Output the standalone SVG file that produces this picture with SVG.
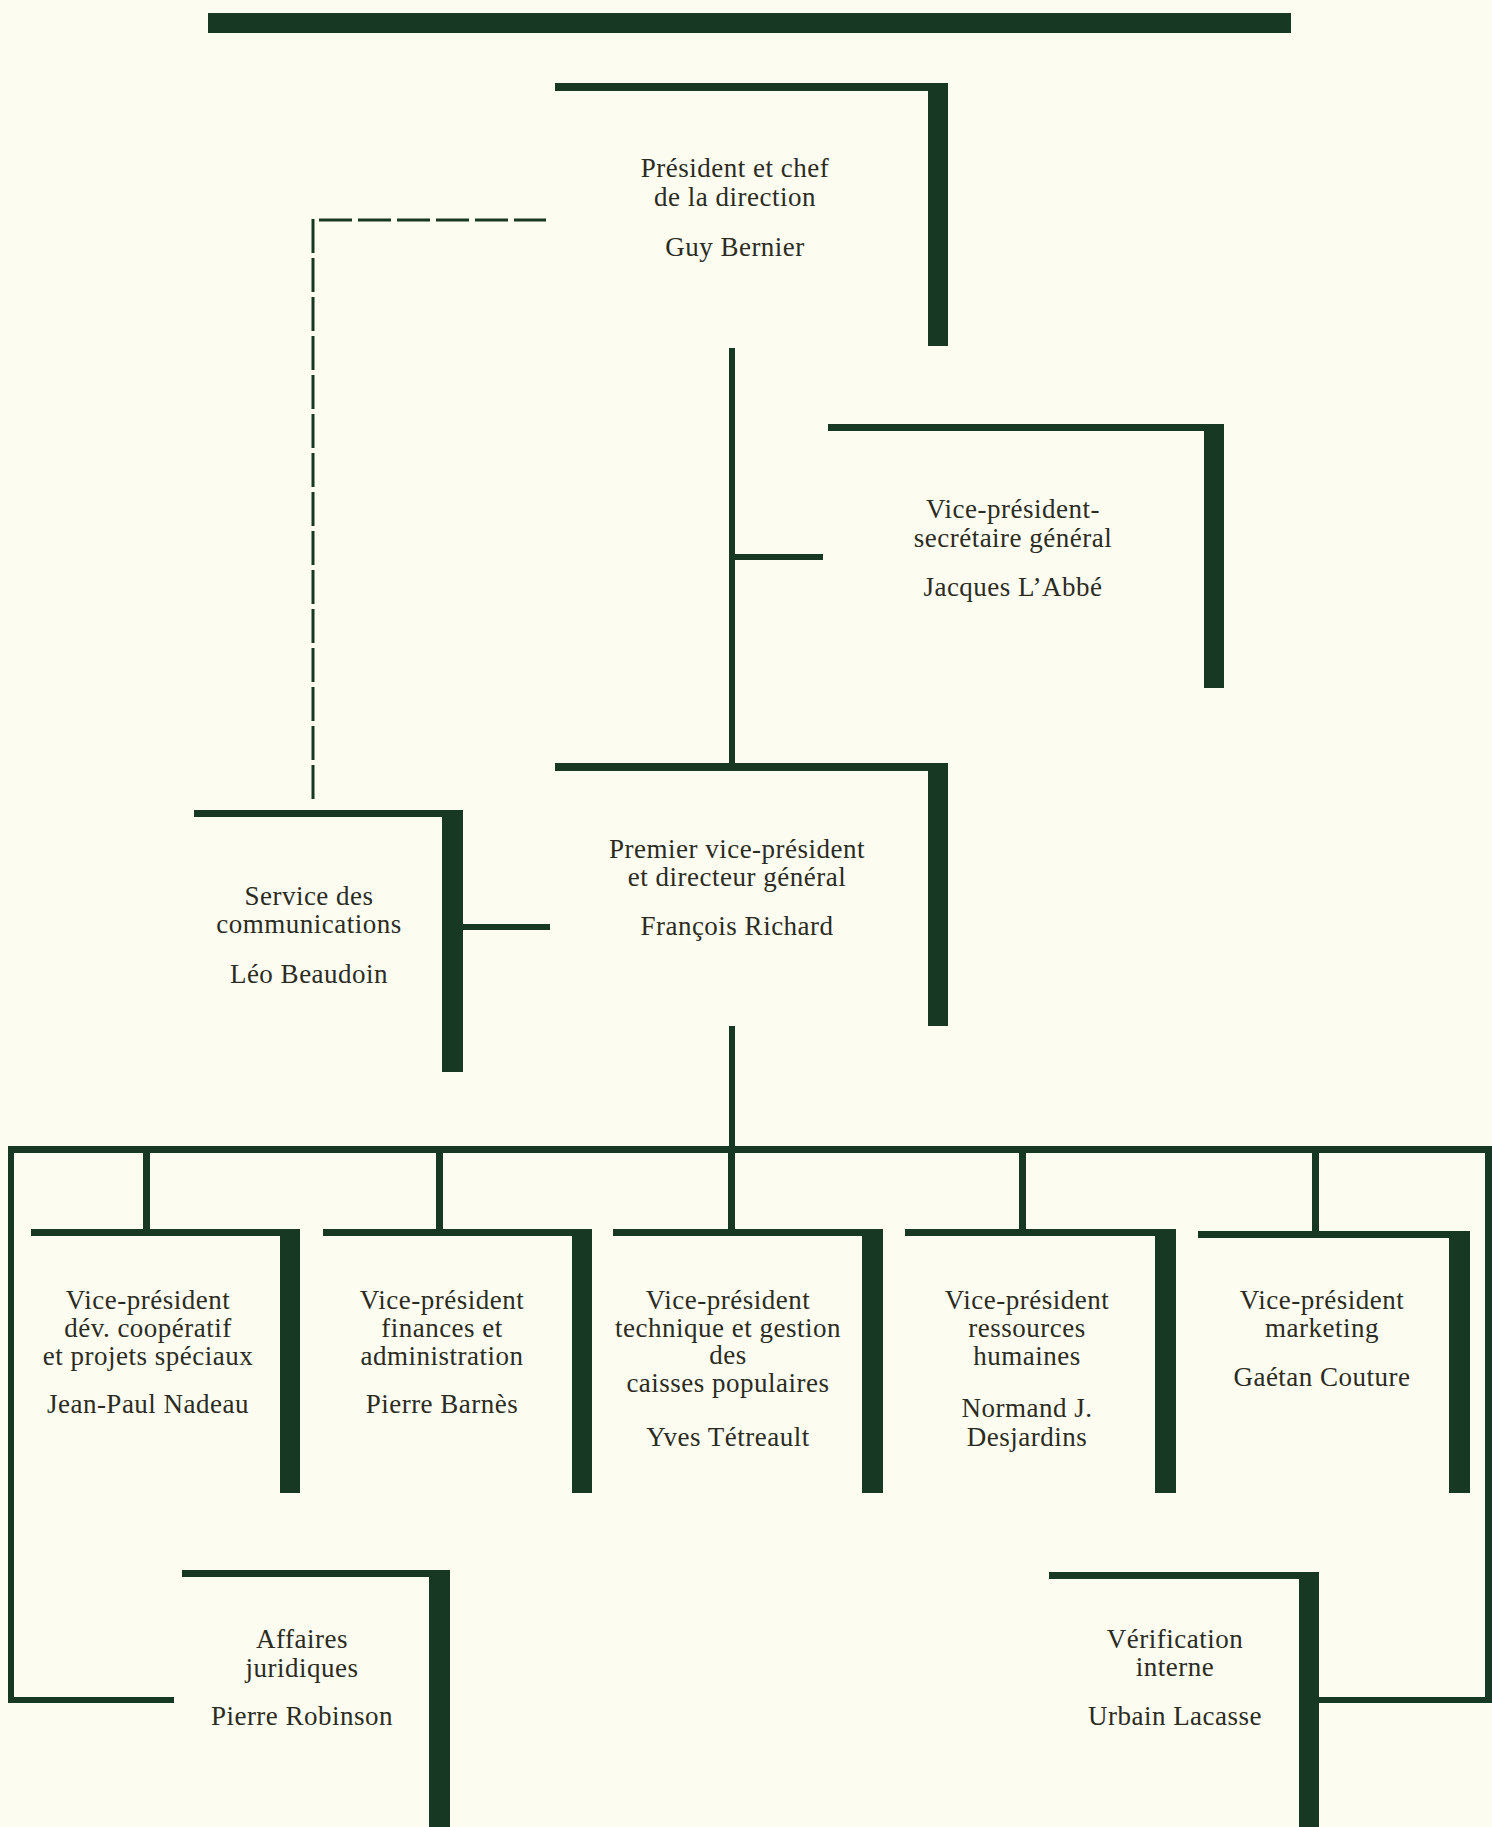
<svg xmlns="http://www.w3.org/2000/svg" width="1492" height="1827" viewBox="0 0 1492 1827">
<style>
.bar{fill:#173823}
.t{font-family:"Liberation Serif","Times New Roman",serif;font-size:27px;letter-spacing:0.5px;fill:#2b2b22;text-anchor:middle}
.dash{stroke:#173823;stroke-width:3;fill:none}
</style>
<rect x="0" y="0" width="1492" height="1827" fill="#fcfcf1"/>
<rect class="bar" x="208" y="13" width="1083" height="20"/>

<g id="connectors">
  <line class="dash" x1="313" y1="219" x2="313" y2="802" stroke-dasharray="34 5"/>
  <line class="dash" x1="319" y1="220" x2="546" y2="220" stroke-dasharray="33 6"/>
  <rect class="bar" x="729" y="348" width="6" height="416"/>
  <rect class="bar" x="732" y="554" width="91" height="6"/>
  <rect class="bar" x="463" y="924" width="87" height="6"/>
  <rect class="bar" x="729" y="1026" width="6" height="122"/>
  <rect class="bar" x="8" y="1146" width="1484" height="7"/>
  <rect class="bar" x="8" y="1146" width="6" height="557"/>
  <rect class="bar" x="8" y="1697" width="166" height="6"/>
  <rect class="bar" x="1485" y="1146" width="7" height="557"/>
  <rect class="bar" x="1319" y="1697" width="173" height="6"/>
  <rect class="bar" x="143" y="1150" width="7" height="80"/>
  <rect class="bar" x="436" y="1150" width="7" height="80"/>
  <rect class="bar" x="728" y="1150" width="7" height="80"/>
  <rect class="bar" x="1019" y="1150" width="7" height="80"/>
  <rect class="bar" x="1312" y="1150" width="7" height="82"/>
</g>

<g id="president">
  <rect class="bar" x="555" y="83" width="393" height="8"/>
  <rect class="bar" x="928" y="83" width="20" height="263"/>
  <text class="t" x="735" y="177">Président et chef</text>
  <text class="t" x="735" y="206">de la direction</text>
  <text class="t" x="735" y="256">Guy Bernier</text>
</g>

<g id="vp-secretaire">
  <rect class="bar" x="828" y="424" width="396" height="7"/>
  <rect class="bar" x="1204" y="424" width="20" height="264"/>
  <text class="t" x="1013" y="518">Vice-président-</text>
  <text class="t" x="1013" y="547">secrétaire général</text>
  <text class="t" x="1013" y="596">Jacques L’Abbé</text>
</g>

<g id="premier-vp">
  <rect class="bar" x="555" y="763" width="393" height="8"/>
  <rect class="bar" x="928" y="763" width="20" height="263"/>
  <text class="t" x="737" y="858">Premier vice-président</text>
  <text class="t" x="737" y="886">et directeur général</text>
  <text class="t" x="737" y="935">François Richard</text>
</g>

<g id="communications">
  <rect class="bar" x="194" y="810" width="269" height="7"/>
  <rect class="bar" x="442" y="810" width="21" height="262"/>
  <text class="t" x="309" y="905">Service des</text>
  <text class="t" x="309" y="933">communications</text>
  <text class="t" x="309" y="983">Léo Beaudoin</text>
</g>

<g id="vp-cooperatif">
  <rect class="bar" x="31" y="1229" width="269" height="7"/>
  <rect class="bar" x="280" y="1229" width="20" height="264"/>
  <text class="t" x="148" y="1309">Vice-président</text>
  <text class="t" x="148" y="1337">dév. coopératif</text>
  <text class="t" x="148" y="1365">et projets spéciaux</text>
  <text class="t" x="148" y="1413">Jean-Paul Nadeau</text>
</g>

<g id="vp-finances">
  <rect class="bar" x="323" y="1229" width="269" height="7"/>
  <rect class="bar" x="572" y="1229" width="20" height="264"/>
  <text class="t" x="442" y="1309">Vice-président</text>
  <text class="t" x="442" y="1337">finances et</text>
  <text class="t" x="442" y="1365">administration</text>
  <text class="t" x="442" y="1413">Pierre Barnès</text>
</g>

<g id="vp-technique">
  <rect class="bar" x="613" y="1229" width="270" height="7"/>
  <rect class="bar" x="862" y="1229" width="21" height="264"/>
  <text class="t" x="728" y="1309">Vice-président</text>
  <text class="t" x="728" y="1337">technique et gestion</text>
  <text class="t" x="728" y="1364">des</text>
  <text class="t" x="728" y="1392">caisses populaires</text>
  <text class="t" x="728" y="1446">Yves Tétreault</text>
</g>

<g id="vp-ressources">
  <rect class="bar" x="905" y="1229" width="271" height="7"/>
  <rect class="bar" x="1155" y="1229" width="21" height="264"/>
  <text class="t" x="1027" y="1309">Vice-président</text>
  <text class="t" x="1027" y="1337">ressources</text>
  <text class="t" x="1027" y="1365">humaines</text>
  <text class="t" x="1027" y="1417">Normand J.</text>
  <text class="t" x="1027" y="1446">Desjardins</text>
</g>

<g id="vp-marketing">
  <rect class="bar" x="1198" y="1231" width="272" height="7"/>
  <rect class="bar" x="1449" y="1231" width="21" height="262"/>
  <text class="t" x="1322" y="1309">Vice-président</text>
  <text class="t" x="1322" y="1337">marketing</text>
  <text class="t" x="1322" y="1386">Gaétan Couture</text>
</g>

<g id="affaires-juridiques">
  <rect class="bar" x="182" y="1570" width="268" height="7"/>
  <rect class="bar" x="429" y="1570" width="21" height="257"/>
  <text class="t" x="302" y="1648">Affaires</text>
  <text class="t" x="302" y="1677">juridiques</text>
  <text class="t" x="302" y="1725">Pierre Robinson</text>
</g>

<g id="verification-interne">
  <rect class="bar" x="1049" y="1572" width="270" height="7"/>
  <rect class="bar" x="1299" y="1572" width="20" height="255"/>
  <text class="t" x="1175" y="1648">Vérification</text>
  <text class="t" x="1175" y="1676">interne</text>
  <text class="t" x="1175" y="1725">Urbain Lacasse</text>
</g>
</svg>
